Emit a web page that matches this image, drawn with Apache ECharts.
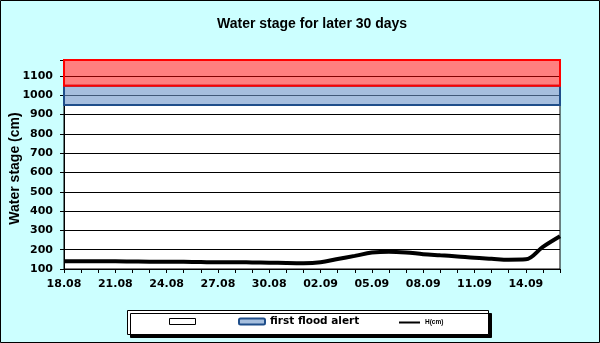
<!DOCTYPE html>
<html>
<head>
<meta charset="utf-8">
<script src="https://cdn.jsdelivr.net/npm/echarts@6/dist/echarts.min.js"></script>
<style>
html,body{margin:0;padding:0;background:#CCFFFF;}
#c{width:600px;height:343px;}
</style>
</head>
<body>
<div id="c"></div>
<script>
const dates = ['18.08','19.08','20.08','21.08','22.08','23.08','24.08','25.08','26.08','27.08','28.08','29.08','30.08','31.08',
  '01.09','02.09','03.09','04.09','05.09','06.09','07.09','08.09','09.09','10.09','11.09','12.09','13.09','14.09','15.09','16.09'];
const waterStage = [140,140,140,140,139,138,138,137,136,135,135,134,133,131,
  130,135,152,168,185,190,186,177,171,165,158,153,148,150,215,270];
const firstAlertBand = [950, 1050];
const upperBand = [1050, 1183];
const yMin = 100, yMax = 1183, yStep = 100;

const tickFont = 'DejaVu Sans';
const chart = echarts.init(document.getElementById('c'), null, {renderer: 'canvas'});
chart.setOption({
  backgroundColor: '#CCFFFF',
  animation: false,
  title: {
    text: 'Water stage for later 30 days',
    left: 212, top: 12,
    textStyle: {fontFamily: 'Liberation Sans', fontWeight: 'bold', fontSize: 14, color: '#000'}
  },
  graphic: [
    {type: 'rect', shape: {x: 0.5, y: 0.5, width: 599, height: 342},
     style: {fill: 'none', stroke: '#000', lineWidth: 1}, silent: true},
    {type: 'rect', shape: {x: 127.5, y: 310.5, width: 361, height: 24},
     style: {fill: '#fff', stroke: '#000', lineWidth: 1, shadowColor: '#000', shadowOffsetX: 3, shadowOffsetY: 3, shadowBlur: 0}, silent: true}
  ],
  legend: [
    {data: [{name: ' ', icon: 'rect', itemStyle: {color: '#fff', borderColor: '#000', borderWidth: 1}}],
     left: 169, top: 316, padding: 0, itemWidth: 26, itemHeight: 6, selectedMode: false,
     textStyle: {fontFamily: tickFont, fontWeight: 'bold', fontSize: 10.5, color: '#000'}},
    {data: [{name: 'first flood alert', icon: 'roundRect', itemStyle: {color: '#A6BFDE', borderColor: '#1F4E8A', borderWidth: 2}}],
     left: 238, top: 316, padding: 0, itemWidth: 26, itemHeight: 6, selectedMode: false,
     textStyle: {fontFamily: tickFont, fontWeight: 'bold', fontSize: 10.5, color: '#000'}},
    {data: [{name: 'H(cm)', icon: 'rect', itemStyle: {color: '#000', borderWidth: 0}}],
     left: 399, top: 316, padding: 0, itemWidth: 21, itemHeight: 2, selectedMode: false,
     textStyle: {fontFamily: 'Liberation Sans', fontWeight: 'bold', fontSize: 6.5, color: '#000', lineHeight: 13}}
  ],
  grid: {left: 64, right: 40, top: 60, bottom: 74, outerBoundsMode: 'none', containLabel: false,
    show: true, backgroundColor: '#fff', borderColor: '#000', borderWidth: 1},
  xAxis: {
    type: 'category', data: dates, boundaryGap: false,
    axisLine: {lineStyle: {color: '#000', width: 1}},
    axisTick: {show: true, interval: 0, length: 4, inside: false, lineStyle: {color: '#000'}},
    axisLabel: {interval: 2, margin: 10, color: '#000', fontFamily: tickFont, fontWeight: 'bold', fontSize: 11},
    splitLine: {show: false}
  },
  yAxis: {
    type: 'value', min: yMin, max: yMax, interval: yStep,
    name: 'Water stage (cm)', nameLocation: 'middle', nameGap: 42, nameRotate: 90, nameMoveOverlap: false,
    nameTextStyle: {fontFamily: 'Liberation Sans', fontWeight: 'bold', fontSize: 14, color: '#000', padding: [0, 8, 0, 0]},
    axisLine: {show: true, lineStyle: {color: '#000', width: 1}},
    axisTick: {show: true, length: 4, lineStyle: {color: '#000'}},
    axisLabel: {margin: 11, color: '#000', fontFamily: tickFont, fontWeight: 'bold', fontSize: 11,
      formatter: v => (v % 100 === 0 ? String(v) : '')},
    splitLine: {show: true, lineStyle: {color: '#000', width: 1}}
  },
  series: [
    {name: 'first flood alert', type: 'line', data: [], symbol: 'none', z: 1,
     markArea: {silent: true,
       itemStyle: {color: 'rgba(107,147,200,0.6)', borderColor: '#1F4E8A', borderWidth: 2},
       data: [[{yAxis: firstAlertBand[0]}, {yAxis: firstAlertBand[1]}]]}},
    {name: ' ', type: 'line', data: [], symbol: 'none', z: 2,
     markArea: {silent: true,
       itemStyle: {color: 'rgba(255,0,0,0.5)', borderColor: '#FF0000', borderWidth: 2},
       data: [[{yAxis: upperBand[0]}, {yAxis: upperBand[1]}]]}},
    {name: 'H(cm)', type: 'line', data: waterStage, symbol: 'none', smooth: 0.35, z: 3,
     lineStyle: {color: '#000', width: 4}, itemStyle: {color: '#000'}}
  ]
});
</script>
</body>
</html>
